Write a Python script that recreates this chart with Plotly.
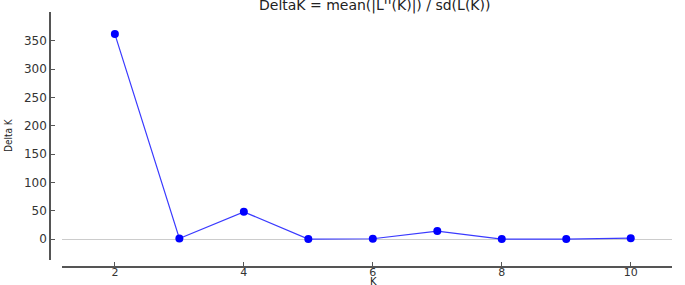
import plotly.graph_objects as go

K = [2, 3, 4, 5, 6, 7, 8, 9, 10]
delta_k = [362, 1, 48, 0, 0.5, 14, 0, 0, 1.5]
y_ticks = [0, 50, 100, 150, 200, 250, 300, 350]
x_ticks = [2, 4, 6, 8, 10]
title_text = "DeltaK = mean(|L''(K)|) / sd(L(K))"

fig = go.Figure()
fig.add_trace(go.Scatter(
    x=K, y=delta_k, mode="lines+markers",
    line=dict(color="#3a3aff", width=1.2),
    marker=dict(color="#0000ff", size=8, symbol="circle"),
    showlegend=False,
))

W, H = 685, 285
l, r, t, b = 50, 13, 12, 18
pw, ph = W - l - r, H - t - b

fig.update_layout(
    width=W, height=H,
    margin=dict(l=l, r=r, t=t, b=b, pad=0, autoexpand=False),
    plot_bgcolor="white", paper_bgcolor="white",
    font=dict(family="DejaVu Sans", size=12, color="#333333"),
    xaxis=dict(
        domain=[(62 - l) / pw, 1], anchor="free", position=0, automargin=False,
        range=[1.18, 10.64], tickvals=x_ticks, ticktext=[str(v) for v in x_ticks],
        showline=True, linecolor="#555555", linewidth=1.5,
        ticks="inside", ticklen=4, tickcolor="#555555",
        showgrid=False, zeroline=False, ticklabelstandoff=-5,
        tickfont=dict(family="DejaVu Sans", size=11, color="#333333"),
    ),
    yaxis=dict(
        domain=[(267 - 260) / ph, 1], anchor="free", position=0, automargin=False,
        range=[-37, 401], tickvals=y_ticks, ticktext=[str(v) for v in y_ticks],
        showline=True, linecolor="#555555", linewidth=1.5,
        ticks="inside", ticklen=4, tickcolor="#555555",
        showgrid=False, zeroline=True, zerolinecolor="#cccccc", zerolinewidth=1,
        tickfont=dict(family="DejaVu Sans", size=12, color="#333333"),
    ),
    annotations=[
        dict(text=title_text, xref="paper", yref="paper", x=(374 - l) / pw,
             y=(267 - 5) / ph, xanchor="center", yanchor="middle", showarrow=False,
             font=dict(family="DejaVu Sans", size=14, color="#222222")),
        dict(text="K", xref="paper", yref="paper", x=(373 - l) / pw,
             y=(267 - 281) / ph, xanchor="center", yanchor="middle", showarrow=False,
             font=dict(family="DejaVu Sans", size=10, color="#222222")),
        dict(text="Delta K", xref="paper", yref="paper", x=(8 - l) / pw,
             y=(267 - 135) / ph, xanchor="center", yanchor="middle", showarrow=False,
             textangle=-90,
             font=dict(family="DejaVu Sans Condensed", size=10, color="#222222")),
    ],
)

fig.write_html("out.html", config={"displayModeBar": False},
               post_script="document.body.style.margin='0';document.body.style.overflow='hidden';")
